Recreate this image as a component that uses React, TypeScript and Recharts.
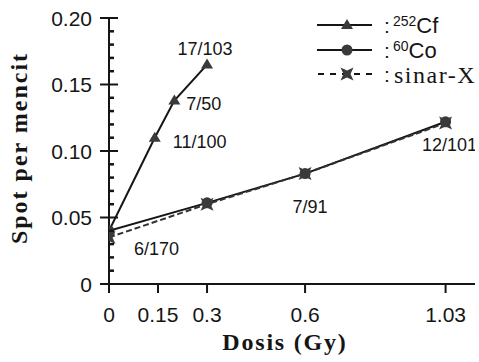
import { Label, Legend, Line, LineChart, XAxis, YAxis } from "recharts";

// dose (Gy) vs spots per mouse
const cfDose = [0, 0.14, 0.2, 0.3];
const cfSpot = [0.04, 0.11, 0.138, 0.165];
const cfNotes = ["", "11/100", "7/50", "17/103"];

const coDose = [0, 0.3, 0.6, 1.03];
const coSpot = [0.04, 0.061, 0.083, 0.122];
const coNotes = ["", "", "", ""];

const xrayDose = [0, 0.3, 0.6, 1.03];
const xraySpot = [0.035, 0.06, 0.083, 0.121];
const xrayNotes = ["6/170", "", "7/91", "12/101"];

const xTicks = [0, 0.15, 0.3, 0.6, 1.03];
const xTickLabels = ["0", "0.15", "0.3", "0.6", "1.03"];
const yMajorTicks = [0, 0.05, 0.1, 0.15, 0.2];
const yMajorLabels = ["0", "0.05", "0.10", "0.15", "0.20"];
const yMinorTicks = [
  0.01, 0.02, 0.03, 0.04, 0.06, 0.07, 0.08, 0.09, 0.11, 0.12, 0.13, 0.14, 0.16,
  0.17, 0.18, 0.19,
];

const toRows = (dose: number[], spot: number[], notes: string[]) =>
  dose.map((d, i) => ({ dose: d, spot: spot[i], note: notes[i] }));

const cfData = toRows(cfDose, cfSpot, cfNotes);
const coData = toRows(coDose, coSpot, coNotes);
const xrayData = toRows(xrayDose, xraySpot, xrayNotes);

const SANS = "'Liberation Sans', Arial, sans-serif";
const SERIF = "'Liberation Serif', 'Times New Roman', serif";
const INK = "#151515";
const MARK = "#3a3a3a";

// where each annotation sits relative to its point
const NOTE_POS: Record<string, [number, number, "start" | "middle"]> = {
  "11/100": [18, 10, "start"],
  "7/50": [12, 10, "start"],
  "17/103": [-2, -10, "middle"],
  "6/170": [25, 18, "start"],
  "7/91": [5, 39, "middle"],
  "12/101": [4, 28, "middle"],
};

function Note({ cx, cy, text }: { cx: number; cy: number; text: string }) {
  if (!text) return null;
  const [dx, dy, anchor] = NOTE_POS[text] ?? [0, 0, "start"];
  return (
    <text x={cx + dx} y={cy + dy} textAnchor={anchor} fontFamily={SANS} fontSize={18} fill={INK}>
      {text}
    </text>
  );
}

const trianglePath = (x: number, y: number) => `M${x},${y - 6} L${x + 6},${y + 4} L${x - 6},${y + 4} Z`;
const bowtiePath = (x: number, y: number, s = 6.5, n = 3) =>
  `M${x - s},${y - s} L${x},${y - s + n} L${x + s},${y - s} L${x + s - n},${y} L${x + s},${y + s} L${x},${y + s - n} L${x - s},${y + s} L${x - s + n},${y} Z`;

const cfDot = (p: any) => (
  <g key={`cf-${p.index}`}>
    <path d={trianglePath(p.cx, p.cy)} fill={MARK} />
    <Note cx={p.cx} cy={p.cy} text={p.payload.note} />
  </g>
);

const coDot = (p: any) => (
  <g key={`co-${p.index}`}>
    <circle cx={p.cx} cy={p.cy} r={5.5} fill={MARK} />
    <Note cx={p.cx} cy={p.cy} text={p.payload.note} />
  </g>
);

const xrayDot = (p: any) => (
  <g key={`xr-${p.index}`}>
    <path d={bowtiePath(p.cx, p.cy)} fill={MARK} />
    <Note cx={p.cx} cy={p.cy} text={p.payload.note} />
  </g>
);

function YTick(props: any) {
  const { x, y, payload } = props;
  const axisX = x + 17;
  const i = yMajorTicks.findIndex((t) => Math.abs(t - payload.value) < 1e-6);
  if (i < 0) {
    return <line x1={axisX} x2={axisX + 5} y1={y} y2={y} stroke={INK} strokeWidth={2.5} />;
  }
  return (
    <g>
      <line x1={axisX - 9} x2={axisX + 9} y1={y} y2={y} stroke={INK} strokeWidth={2} />
      <text x={x} y={y} dy="0.36em" textAnchor="end" fontFamily={SANS} fontSize={21} fill={INK}>
        {yMajorLabels[i]}
      </text>
    </g>
  );
}

function LegendBox() {
  const rowY = [25, 50, 74];
  return (
    <svg width={169} height={95} style={{ display: "block", overflow: "visible" }}>
      <line x1={7} x2={62} y1={rowY[0]} y2={rowY[0]} stroke={INK} strokeWidth={2} />
      <path d={trianglePath(37, rowY[0])} fill={MARK} />
      <text x={74} y={rowY[0] + 8} fontFamily={SANS} fontSize={21} fill={INK}>
        :
        <tspan x={83} dy={-7} fontSize={14}>252</tspan>
        <tspan dy={7} fontSize={22}>Cf</tspan>
      </text>

      <line x1={7} x2={62} y1={rowY[1]} y2={rowY[1]} stroke={INK} strokeWidth={2} />
      <circle cx={37} cy={rowY[1]} r={5.5} fill={MARK} />
      <text x={74} y={rowY[1] + 8} fontFamily={SANS} fontSize={21} fill={INK}>
        :
        <tspan x={83} dy={-7} fontSize={14}>60</tspan>
        <tspan dy={7} fontSize={22}>Co</tspan>
      </text>

      <line x1={8} x2={67} y1={rowY[2]} y2={rowY[2]} stroke={INK} strokeWidth={2} strokeDasharray="6 6" />
      <path d={bowtiePath(37, rowY[2])} fill={MARK} />
      <text x={74} y={rowY[2] + 8} fontFamily={SANS} fontSize={21} fill={INK}>
        :
      </text>
      <text x={84} y={rowY[2] + 9} fontFamily={SERIF} fontSize={24} letterSpacing={1.5} fill={INK}>
        sinar-X
      </text>
    </svg>
  );
}

export default function App() {
  return (
    <div style={{ position: "absolute", left: 0, top: 0, width: 479, height: 362, background: "#fff" }}>
      <LineChart width={479} height={362} margin={{ top: 18, right: 4, bottom: 18, left: 0 }}>
        <XAxis
          dataKey="dose"
          type="number"
          domain={[0, 1.12]}
          ticks={xTicks}
          tickFormatter={(v: number) => xTickLabels[xTicks.indexOf(v)] ?? String(v)}
          allowDataOverflow
          height={60}
          stroke={INK}
          strokeWidth={2}
          tickSize={9}
          tickMargin={14}
          tick={{ fontFamily: SANS, fontSize: 21, fill: INK }}
          interval={0}
        >
          <Label
            content={(p: any) => {
              const vb = p.viewBox;
              return (
                <text
                  x={vb.x + vb.width / 2 - 7}
                  y={vb.y + 66}
                  textAnchor="middle"
                  fontFamily={SERIF}
                  fontWeight="bold"
                  fontSize={24}
                  letterSpacing={1.8}
                  fill={INK}
                >
                  Dosis (Gy)
                </text>
              );
            }}
          />
        </XAxis>
        <YAxis
          type="number"
          domain={[0, 0.2]}
          ticks={[...yMajorTicks, ...yMinorTicks].sort((a, b) => a - b)}
          interval={0}
          width={109}
          stroke={INK}
          strokeWidth={2}
          tickLine={false}
          tickSize={0}
          tickMargin={17}
          tick={<YTick />}
        >
          <Label
            content={(p: any) => {
              const vb = p.viewBox;
              const cx = vb.x + 27;
              const cy = vb.y + vb.height / 2 - 3;
              return (
                <text
                  x={cx}
                  y={cy}
                  transform={`rotate(-90, ${cx}, ${cy})`}
                  textAnchor="middle"
                  fontFamily={SERIF}
                  fontWeight="bold"
                  fontSize={24}
                  letterSpacing={2}
                  fill={INK}
                >
                  Spot per mencit
                </text>
              );
            }}
          />
        </YAxis>
        <Legend
          layout="vertical"
          align="center"
          verticalAlign="middle"
          wrapperStyle={{ left: 310, top: 0, width: 169, height: 95 }}
          content={() => <LegendBox />}
        />
        <Line
          data={cfData}
          dataKey="spot"
          name="252Cf"
          stroke={INK}
          strokeWidth={2}
          dot={cfDot}
          activeDot={false}
          isAnimationActive={false}
        />
        <Line
          data={coData}
          dataKey="spot"
          name="60Co"
          stroke={INK}
          strokeWidth={2}
          dot={coDot}
          activeDot={false}
          isAnimationActive={false}
        />
        <Line
          data={xrayData}
          dataKey="spot"
          name="sinar-X"
          stroke="#333"
          strokeWidth={2}
          strokeDasharray="6 3"
          dot={xrayDot}
          activeDot={false}
          isAnimationActive={false}
        />
      </LineChart>
    </div>
  );
}
